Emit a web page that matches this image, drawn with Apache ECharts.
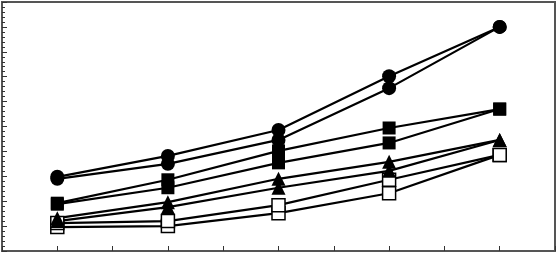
<!DOCTYPE html>
<html><head><meta charset="utf-8">
<script src="https://cdn.jsdelivr.net/npm/echarts@6/dist/echarts.min.js"></script>
<style>html,body{margin:0;padding:0;background:#fff}#c{width:558px;height:256px}</style>
</head><body><div id="c"></div>
<script>
const xPositions = [1, 3, 5, 7, 9];
const circleA = [14.9, 19.1, 24.3, 35.1, 45.0];
const circleB = [14.5, 17.5, 22.3, 32.7, 45.0];
const squareA = [9.6, 14.3, 20.1, 24.7, 28.5];
const squareB = [9.4, 12.7, 17.7, 21.7, 28.5];
const triA = [6.6, 9.8, 14.5, 17.9, 22.3];
const triB = [6.0, 8.8, 12.7, 16.1, 22.3];
const openA = [5.6, 6.0, 9.2, 14.3, 19.3];
const openB = [4.8, 5.0, 7.6, 11.6, 19.3];

function pts(v){ return xPositions.map((x,i)=>[x, v[i]]); }
function mk(data, symbol, size, open){
  return {
    type:'line', data: pts(data), symbol: symbol, symbolSize: size,
    lineStyle:{color:'#000', width:2.2},
    itemStyle: open ? {color:'#fff', borderColor:'#000', borderWidth:1.5} : {color:'#000', borderWidth:0},
    animation:false, silent:true
  };
}
const chart = echarts.init(document.getElementById('c'));
chart.setOption({
  animation:false,
  grid:{left:2, right:3, top:2, bottom:5, show:true, borderColor:'#555', borderWidth:2, backgroundColor:'#fff'},
  xAxis:{type:'value', min:0, max:10, interval:1,
    axisLine:{show:true, lineStyle:{color:'#555', width:2}},
    axisTick:{show:true, inside:true, length:5, lineStyle:{color:'#333', width:1}},
    axisLabel:{show:false}, splitLine:{show:false}},
  yAxis:{type:'value', min:0, max:50, interval:5,
    axisLine:{show:true, lineStyle:{color:'#555', width:2}},
    axisTick:{show:true, inside:true, length:5, lineStyle:{color:'#333', width:1}},
    minorTick:{show:true, splitNumber:5, length:3, lineStyle:{color:'#333', width:1}},
    axisLabel:{show:false}, splitLine:{show:false}},
  series:[
    mk(openB,'rect',13,true), mk(openA,'rect',13,true),
    mk(triB,'triangle',14,false), mk(triA,'triangle',14,false),
    mk(squareB,'rect',13,false), mk(squareA,'rect',13,false),
    mk(circleB,'circle',14,false), mk(circleA,'circle',14,false)
  ]
});
</script></body></html>
